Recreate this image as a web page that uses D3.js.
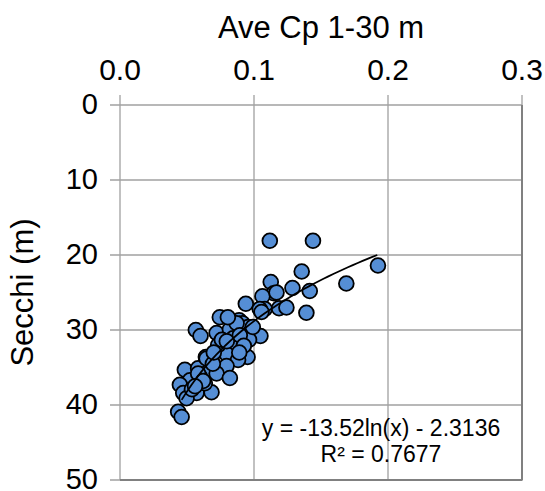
<!DOCTYPE html>
<html>
<head>
<meta charset="utf-8">
<script src="https://cdn.jsdelivr.net/npm/d3@7"></script>
<style>
  html, body { margin: 0; padding: 0; background: #fff; }
  svg { display: block; font-family: "Liberation Sans", Arial, sans-serif; }
</style>
</head>
<body>
<svg id="chart" width="545" height="491"></svg>
<script>
// ---- data ----
const cpValues = [0.1118,0.1440,0.1356,0.1689,0.1925,0.1125,0.1287,0.1416,0.1148,0.1063,
  0.0939,0.1080,0.1187,0.1242,0.1391,0.1043,0.0745,0.0889,0.0914,0.0956,
  0.0566,0.0601,0.0721,0.0820,0.0969,0.1048,0.0844,0.0963,0.0750,0.0857,
  0.0770,0.0795,0.0952,0.0641,0.0683,0.0881,0.0795,0.0484,0.0583,0.0658,
  0.0721,0.0820,0.0596,0.0522,0.0447,0.0472,0.0572,0.0683,0.0497,0.0434,
  0.0460,0.1168,0.1056,0.0870,0.0733,0.0646,0.0583,0.0693,0.0760,0.0894,
  0.0924,0.0633,0.0537,0.0805,0.0991,0.0797,0.0700,0.0890,0.0620,0.0560];
const secchiValues = [18.1,18.1,22.2,23.8,21.4,23.6,24.4,24.8,25.1,25.5,
  26.5,27.2,27.1,27.0,27.7,27.2,28.3,28.7,29.1,29.6,
  30.0,30.8,30.4,29.9,30.4,30.8,31.1,31.3,32.0,32.2,
  32.7,33.2,33.6,33.6,34.0,34.0,34.8,35.3,35.1,35.6,
  35.8,36.4,36.2,36.7,37.3,38.4,38.4,38.3,39.1,40.9,
  41.6,25.0,27.6,29.1,32.0,33.8,35.8,34.5,31.3,30.7,
  32.1,37.1,37.9,28.3,29.6,31.5,33.0,33.0,36.8,37.5];
const xTicks = [0.0, 0.1, 0.2, 0.3];
const yTicks = [0, 10, 20, 30, 40, 50];
const trendCoef = [-13.52, -2.3136]; // y = a ln(x) + b
const trendRange = [0.046, 0.192];
const xTitle = "Ave Cp 1-30 m";
const yTitle = "Secchi (m)";
const eqText = "y = -13.52ln(x) - 2.3136";
const r2Text = "R² = 0.7677";

// ---- layout ----
const svg = d3.select("#chart");
const L = 120, R = 522, T = 105, B = 480;
const x = d3.scaleLinear().domain([0, 0.3]).range([L, R]);
const y = d3.scaleLinear().domain([0, 50]).range([T, B]);
const gridCol = "#a0a0a0";

// gridlines
svg.append("g").selectAll("line.v").data(xTicks).join("line")
  .attr("x1", d => x(d)).attr("x2", d => x(d)).attr("y1", T - 10).attr("y2", B)
  .attr("stroke", gridCol).attr("stroke-width", 1.3);
svg.append("g").selectAll("line.h").data(yTicks).join("line")
  .attr("y1", d => y(d)).attr("y2", d => y(d)).attr("x1", L - 10).attr("x2", R)
  .attr("stroke", gridCol).attr("stroke-width", 1.3);
// border bottom/right
svg.append("line").attr("x1", L).attr("x2", R + 0.5).attr("y1", B).attr("y2", B)
  .attr("stroke", "#808080").attr("stroke-width", 2);
svg.append("line").attr("x1", R).attr("x2", R).attr("y1", T).attr("y2", B)
  .attr("stroke", "#808080").attr("stroke-width", 2);

// tick labels
svg.append("g").selectAll("text").data(xTicks).join("text")
  .attr("x", d => x(d)).attr("y", 80).attr("text-anchor", "middle")
  .attr("font-size", 30).attr("fill", "#000").text(d => d3.format(".1f")(d));
svg.append("g").selectAll("text").data(yTicks).join("text")
  .attr("x", 98).attr("y", d => y(d)).attr("dy", "0.3em").attr("text-anchor", "end")
  .attr("font-size", 29).attr("fill", "#000").text(d => d);

// titles
svg.append("text").attr("x", (L + R) / 2).attr("y", 38).attr("text-anchor", "middle")
  .attr("font-size", 31).attr("fill", "#000").text(xTitle);
svg.append("text").attr("transform", `translate(33,${(T + B) / 2}) rotate(-90)`)
  .attr("text-anchor", "middle").attr("font-size", 31).attr("fill", "#000").text(yTitle);

// points
const pts = cpValues.map((v, i) => ({ x: v, y: secchiValues[i] }));
svg.append("g").selectAll("circle").data(pts).join("circle")
  .attr("cx", d => x(d.x)).attr("cy", d => y(d.y)).attr("r", 7.4)
  .attr("fill", "#558ed5").attr("stroke", "#000").attr("stroke-width", 1.8);

// trendline
const trendX = d3.range(0, 41).map(i => trendRange[0] + (trendRange[1] - trendRange[0]) * i / 40);
const line = d3.line().x(d => x(d)).y(d => y(trendCoef[0] * Math.log(d) + trendCoef[1]));
svg.append("path").datum(trendX).attr("d", line).attr("fill", "none")
  .attr("stroke", "#000").attr("stroke-width", 1.8);

// equation
svg.append("text").attr("x", 381).attr("y", 436).attr("text-anchor", "middle")
  .attr("font-size", 23).attr("fill", "#000").text(eqText);
svg.append("text").attr("x", 381).attr("y", 462).attr("text-anchor", "middle")
  .attr("font-size", 23).attr("fill", "#000").text(r2Text);
</script>
</body>
</html>
